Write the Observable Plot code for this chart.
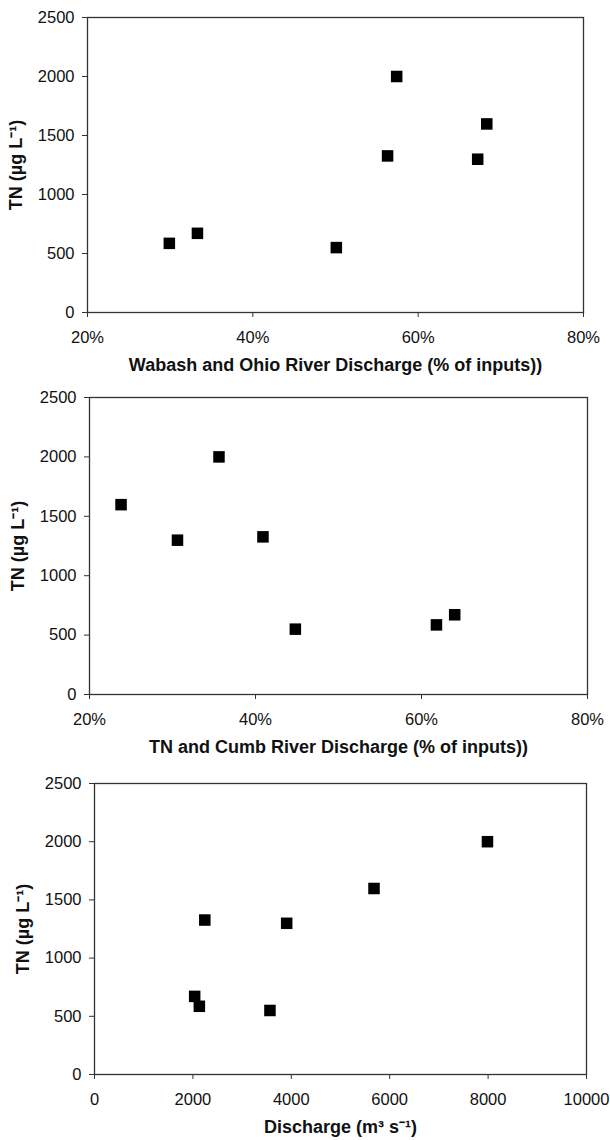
<!DOCTYPE html>
<html><head><meta charset="utf-8">
<script src="https://cdn.jsdelivr.net/npm/d3@7"></script>
<script src="https://cdn.jsdelivr.net/npm/@observablehq/plot@0.6"></script>
<style>
body{margin:0;background:#fff;}
#wrap{position:relative;width:610px;height:1140px;background:#fff;}
.panel{position:absolute;left:0;}
</style></head><body><div id="wrap"></div>
<script>
// Shared y values (TN, µg L-1), one per sampling event
const tnValues = [586, 671, 550, 1327, 2000, 1299, 1598];
// Panel 1: Wabash and Ohio River discharge (% of inputs)
const wabashOhioPct = [29.9, 33.3, 50.1, 56.3, 57.4, 67.2, 68.3];
// Panel 2: TN and Cumb River discharge (% of inputs)
const tnCumbPct = [61.8, 64.0, 44.8, 40.9, 35.6, 30.6, 23.8];
// Panel 3: Discharge (m3 s-1)
const dischargeM3s = [2131, 2036, 3566, 2242, 7987, 3906, 5681];

const yTicks = [0, 500, 1000, 1500, 2000, 2500];
const pctTicks = [20, 40, 60, 80];
const dischargeTicks = [0, 2000, 4000, 6000, 8000, 10000];
const yLabel = "TN (µg L⁻¹)";
const xLabels = [
  "Wabash and Ohio River Discharge (% of inputs))",
  "TN and Cumb River Discharge (% of inputs))",
  "Discharge (m³ s⁻¹)"
];

const font = '"Liberation Sans", Arial, Helvetica, sans-serif';

function panel(xs, xDomain, xTicks, xFormat, xLabel, top, m) {
  const data = tnValues.map((y, i) => ({x: xs[i], y}));
  const svg = Plot.plot({
    width: 610, height: 380,
    marginTop: m.t, marginBottom: m.b, marginLeft: m.l, marginRight: m.r,
    style: {fontFamily: font, fontSize: "16px", color: "#111", background: "transparent"},
    x: {domain: xDomain},
    y: {domain: [0, 2500]},
    marks: [
      Plot.frame({stroke: "#333", strokeWidth: 1.3}),
      Plot.axisY({ticks: yTicks, tickFormat: d => String(d), tickSize: 5, tickPadding: 8, label: null, stroke: "#333", fontSize: 16.5}),
      Plot.axisX({ticks: xTicks, tickFormat: xFormat, tickSize: 5, tickPadding: 13.5, label: null, stroke: "#333", fontSize: 16.5}),
      Plot.dot(data, {x: "x", y: "y", symbol: "square", r: 6.5, fill: "#000", stroke: null}),
      Plot.text([yLabel], {frameAnchor: "left", dx: -71, rotate: -90, textAnchor: "middle", fontWeight: "bold", fontSize: 18, fill: "#111"}),
      Plot.text([xLabel], {frameAnchor: "bottom", dy: 53, lineAnchor: "middle", textAnchor: "middle", fontWeight: "bold", fontSize: 18, fill: "#111"})
    ]
  });
  svg.classList.add("panel");
  svg.style.top = top + "px";
  document.getElementById("wrap").appendChild(svg);
}

const pctFmt = d => d + "%";
panel(wabashOhioPct, [20, 80], pctTicks, pctFmt, xLabels[0], 0, {t: 17, b: 68, l: 87, r: 27});
panel(tnCumbPct, [20, 80], pctTicks, pctFmt, xLabels[1], 380, {t: 17, b: 66, l: 89, r: 23});
panel(dischargeM3s, [0, 10000], dischargeTicks, d => String(d), xLabels[2], 760, {t: 23, b: 66, l: 94, r: 24});
</script></body></html>
